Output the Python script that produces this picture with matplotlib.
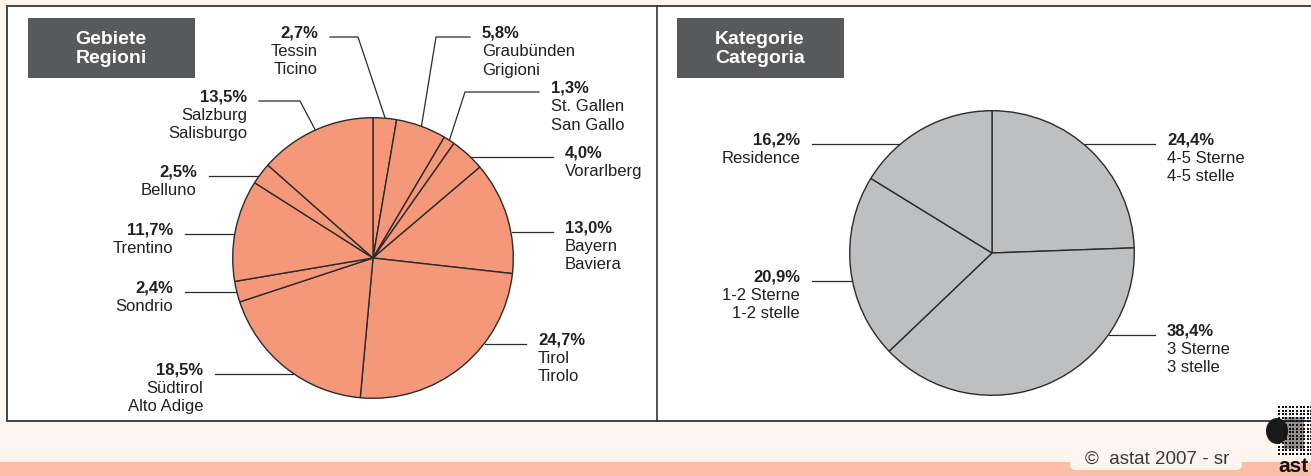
import matplotlib.pyplot as plt
import matplotlib.patches as mpatches
import numpy as np

plt.rcParams['font.family'] = ['Liberation Sans', 'DejaVu Sans']

# Data
regions_de = ['Tessin', 'Graubünden', 'St. Gallen', 'Vorarlberg', 'Bayern', 'Tirol',
              'Südtirol', 'Sondrio', 'Trentino', 'Belluno', 'Salzburg']
regions_it = ['Ticino', 'Grigioni', 'San Gallo', '', 'Baviera', 'Tirolo',
              'Alto Adige', '', '', '', 'Salisburgo']
regions_pct = [2.7, 5.8, 1.3, 4.0, 13.0, 24.7, 18.5, 2.4, 11.7, 2.5, 13.5]

cat_de = ['4-5 Sterne', '3 Sterne', '1-2 Sterne', 'Residence']
cat_it = ['4-5 stelle', '3 stelle', '1-2 stelle', '']
cat_pct = [24.4, 38.4, 20.9, 16.2]

# Layout (pixels)
W, H = 1311, 477
# label anchor (x, y of percentage line), alignment, elbow x (None = horizontal leader)
reg_layout = [(318, 33, 'right', 358), (482, 33, 'left', 436), (551, 88, 'left', 465),
              (565, 153, 'left', None), (565, 228, 'left', None), (538, 340, 'left', None),
              (203, 370, 'right', None), (173, 288, 'right', None), (173, 230, 'right', None),
              (197, 172, 'right', None), (247, 97, 'right', 300)]
cat_layout = [(1167, 140, 'left', None), (1167, 331, 'left', None),
              (800, 277, 'right', None), (800, 140, 'right', None)]

TXT = '#231f20'
FS = 12
fig = plt.figure(figsize=(W / 100, H / 100), dpi=100)
fig.patch.set_facecolor('#fef5f0')
bg = fig.add_axes([0, 0, 1, 1])
bg.set_xlim(0, W)
bg.set_ylim(H, 0)
bg.axis('off')

# frames
bg.add_patch(mpatches.Rectangle((7, 7), 1320, 415, facecolor='white', edgecolor='#444444', lw=1.4, zorder=0))
bg.plot([657, 657], [7, 422], color='#333333', lw=1.2, zorder=1)
bg.add_patch(mpatches.Rectangle((0, 463), W, 20, facecolor='#fbbea8', edgecolor='none', zorder=0))
bg.add_patch(mpatches.FancyBboxPatch((1070, 440), 172, 31, boxstyle='round,pad=0,rounding_size=6',
                                     facecolor='#fef5f0', edgecolor='none', zorder=1))
bg.text(1157, 459, '©  astat 2007 - sr', fontsize=13.5, color='#3a3a3a', ha='center', va='center')

# logo
gx, gy = np.meshgrid(np.arange(1279, 1312, 3.6), np.arange(408, 458, 3.6))
bg.scatter(gx.ravel(), gy.ravel(), s=2.4, color='#111111', marker='s', lw=0, zorder=2)
bg.add_patch(mpatches.Ellipse((1277, 432), 22, 26, facecolor='#1a1a1a', edgecolor='none', zorder=2))
bg.add_patch(mpatches.Rectangle((1284, 418), 20, 32, facecolor='#111111', edgecolor='none', alpha=0.45, zorder=2))
bg.text(1278, 467, 'ast', fontsize=15, fontweight='bold', color='#111111', ha='left', va='center', zorder=3)

# title boxes
for x0, t in [(28, 'Gebiete\nRegioni'), (677, 'Kategorie\nCategoria')]:
    bg.add_patch(mpatches.Rectangle((x0, 19), 167, 60, facecolor='#58595b', edgecolor='none', zorder=2))
    bg.text(x0 + 83, 49, t, color='white', fontsize=14, fontweight='bold', ha='center', va='center',
            linespacing=1.1, zorder=3)


def draw_pie(cx, cy, r, values, color, names1, names2, layout):
    ax = fig.add_axes([(cx - r) / W, (H - cy - r) / H, 2 * r / W, 2 * r / H])
    ax.pie(values, startangle=90, counterclock=False, colors=[color] * len(values),
           wedgeprops=dict(edgecolor='#2b2b2b', linewidth=1.0))
    ax.set_xlim(-1.005, 1.005)
    ax.set_ylim(-1.005, 1.005)
    ax.set_zorder(2)
    total = sum(values)
    cum = np.cumsum([0] + list(values))
    for i, (lx, ly, ha, elbow) in enumerate(layout):
        ly_line = ly + 5
        gap = 12 if ha == 'left' else -12
        x_line = lx - gap
        if elbow is None:
            dy = ly_line - cy
            dx = np.sqrt(max(r * r - dy * dy, 0))
            ex = cx + dx if ha == 'left' else cx - dx
            bg.plot([x_line, ex], [ly_line, ly_line], color='#2b2b2b', lw=0.9, zorder=1)
        else:
            mid = np.deg2rad(90 - (cum[i] + values[i] / 2) / total * 360)
            ex, ey = cx + r * np.cos(mid), cy - r * np.sin(mid)
            bg.plot([x_line, elbow, ex], [ly_line, ly_line, ey], color='#2b2b2b', lw=0.9, zorder=1)
        pct = f'{values[i]:.1f}%'.replace('.', ',')
        bg.text(lx, ly, pct, fontsize=FS, fontweight='bold', color=TXT, ha=ha, va='center')
        bg.text(lx, ly + 18.5, names1[i], fontsize=FS, color=TXT, ha=ha, va='center')
        if names2[i]:
            bg.text(lx, ly + 37, names2[i], fontsize=FS, color=TXT, ha=ha, va='center')


draw_pie(373, 259, 141, regions_pct, '#f5987a', regions_de, regions_it, reg_layout)
draw_pie(992, 254, 143, cat_pct, '#bebfc1', cat_de, cat_it, cat_layout)

fig.savefig('out.png', dpi=100, facecolor=fig.get_facecolor())
